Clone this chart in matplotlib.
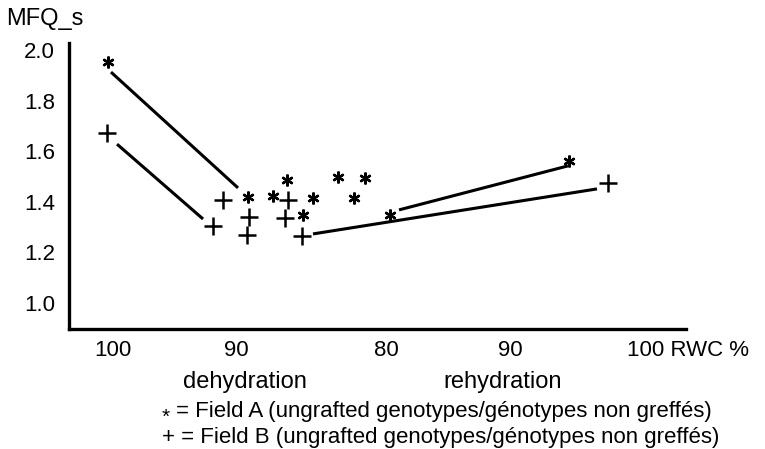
import matplotlib
matplotlib.use('Agg')
import matplotlib.pyplot as plt

plt.rcParams['font.family'] = ['Liberation Sans', 'DejaVu Sans']

# Position along the dehydration -> rehydration track (arbitrary units)
x_tick_pos = [0.0, 10.2, 22.6, 32.8]
x_tick_labels = ['100', '90', '80', '90']
last_tick_pos = 42.5
last_tick_label = '100 RWC %'
y_ticks = [1.0, 1.2, 1.4, 1.6, 1.8, 2.0]
y_tick_labels = ['1.0', '1.2', '1.4', '1.6', '1.8', '2.0']

# Field A (asterisks)
fieldA_x = [-0.41, 11.16, 13.22, 14.38, 15.70, 16.53, 18.60, 19.92, 20.83, 22.89, 37.69]
fieldA_y = [1.953, 1.419, 1.423, 1.486, 1.348, 1.415, 1.498, 1.415, 1.494, 1.348, 1.561]

# Field B (plus signs)
fieldB_x = [-0.50, 8.26, 9.09, 11.24, 11.07, 14.46, 14.21, 15.62, 40.91]
fieldB_y = [1.672, 1.304, 1.407, 1.340, 1.269, 1.407, 1.336, 1.265, 1.474]

# Trend segments
lineA_deh_x = [-0.17, 10.33]
lineA_deh_y = [1.913, 1.455]
lineA_reh_x = [23.64, 37.60]
lineA_reh_y = [1.368, 1.542]
lineB_deh_x = [0.33, 7.44]
lineB_deh_y = [1.628, 1.332]
lineB_reh_x = [16.53, 40.0]
lineB_reh_y = [1.273, 1.451]

W, H = 765, 449
fig = plt.figure(figsize=(W / 100, H / 100), dpi=100)
ax = fig.add_axes([69 / W, 1 - 329 / H, (686 - 69) / W, (329 - 43) / H])

for xs, ys in [(lineA_deh_x, lineA_deh_y), (lineA_reh_x, lineA_reh_y),
               (lineB_deh_x, lineB_deh_y), (lineB_reh_x, lineB_reh_y)]:
    ax.plot(xs, ys, color='black', lw=2.2, solid_capstyle='butt')

ax.plot(fieldA_x, fieldA_y, ls='none', marker=(6, 2, 0), ms=8.5, mew=1.7, color='black')
ax.plot(fieldB_x, fieldB_y, ls='none', marker='+', ms=12.5, mew=1.8, color='black')

ax.set_xlim(-3.64, 47.36)
ax.set_ylim(0.897, 2.028)

ax.set_xticks(x_tick_pos + [last_tick_pos])
ax.set_xticklabels(x_tick_labels + [last_tick_label])
lbls = ax.get_xticklabels()
lbls[-1].set_horizontalalignment('left')
ax.set_yticks(y_ticks)
ax.set_yticklabels(y_tick_labels)
ax.tick_params(axis='both', length=0, labelsize=16)
ax.tick_params(axis='x', pad=8)
ax.tick_params(axis='y', pad=10)

for s in ['top', 'right']:
    ax.spines[s].set_visible(False)
for s in ['left', 'bottom']:
    ax.spines[s].set_linewidth(2.4)

fig.text(6 / W, 1 - 19 / H, 'MFQ_s', fontsize=17, va='center', ha='left')
fig.text(245 / W, 1 - 382 / H, 'dehydration', fontsize=17, va='center', ha='center')
fig.text(503 / W, 1 - 382 / H, 'rehydration', fontsize=17, va='center', ha='center')
fig.text(162 / W, 1 - 417 / H, '*', fontsize=15, va='center', ha='left')
fig.text(176 / W, 1 - 412 / H, '= Field A (ungrafted genotypes/génotypes non greffés)',
         fontsize=16, va='center', ha='left')
fig.text(162 / W, 1 - 437 / H, '+ = Field B (ungrafted genotypes/génotypes non greffés)',
         fontsize=16, va='center', ha='left')

fig.savefig('out.png', dpi=100)
